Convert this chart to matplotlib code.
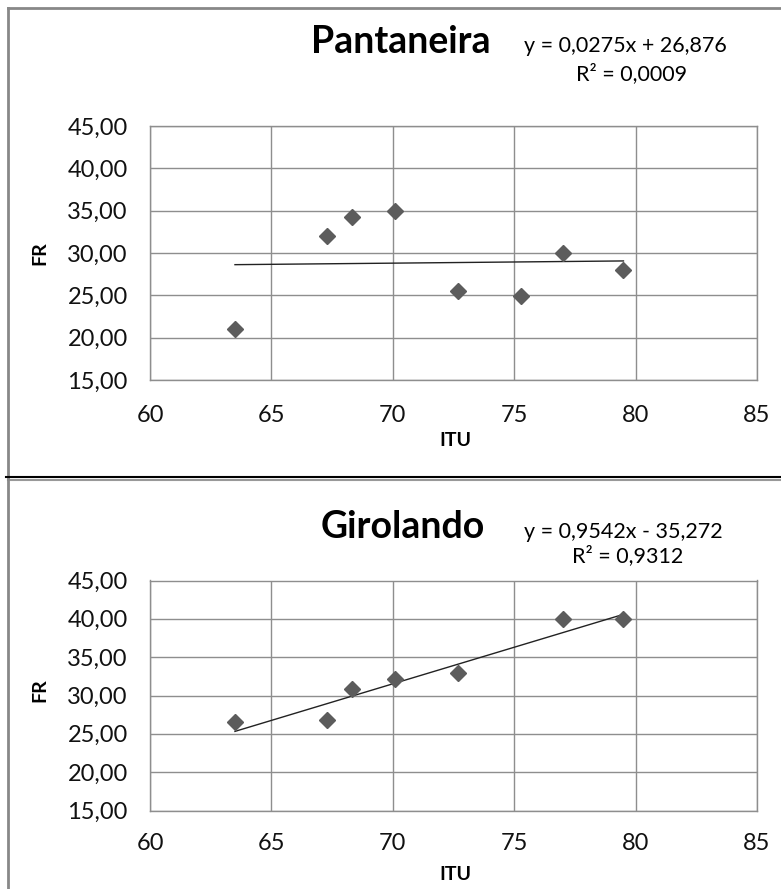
# =====================================================
# FR vs ITU scatter with linear trendline
# Two stacked panels: Pantaneira (top), Girolando (bottom)
# =====================================================

import matplotlib.pyplot as plt
from matplotlib.lines import Line2D

plt.rcParams['font.family'] = ['Lato', 'DejaVu Sans']

# === Data ===
itu_pant = [63.5, 67.3, 68.3, 70.1, 72.7, 75.3, 77.0, 79.5]
fr_pant = [21.0, 32.0, 34.3, 35.0, 25.5, 24.9, 30.0, 28.0]

itu_giro = [63.5, 67.3, 68.3, 70.1, 72.7, 77.0, 79.5]
fr_giro = [26.5, 26.8, 30.9, 32.1, 32.9, 40.0, 40.0]

# trendline coefficients (slope, intercept) as printed on the chart
trend_pant = (0.0275, 26.876)
trend_giro = (0.9542, -35.272)

eq_pant = ['y = 0,0275x + 26,876', 'R² = 0,0009']
eq_giro = ['y = 0,9542x - 35,272', 'R² = 0,9312']

x_ticks = [60, 65, 70, 75, 80, 85]
y_ticks = [15, 20, 25, 30, 35, 40, 45]

# === Figure setup (pixel layout) ===
W, H = 781, 889
fig = plt.figure(figsize=(W / 100, H / 100), dpi=100)
fig.patch.set_facecolor('white')

GRID = '#8e8e8e'
MARKER = '#5c5c5c'


def fx(px):
    return px / W


def fy(py):
    return 1 - py / H


def draw_panel(rect, itu, fr, trend, eq, title, title_xy, eq_xy, r2_xy, fr_xy, itu_xy, xpad):
    left, top, right, bottom = rect
    ax = fig.add_axes([fx(left), fy(bottom), fx(right - left), (bottom - top) / H])

    ax.plot(itu, fr, ls='none', marker='D', ms=8, color=MARKER, zorder=3)

    # linear trendline between min and max ITU
    x0, x1 = min(itu), max(itu)
    a, b = trend
    ax.plot([x0, x1], [a * x0 + b, a * x1 + b], color='#222222', lw=1.0, zorder=2)

    ax.set_xlim(60, 85)
    ax.set_ylim(15, 45)
    ax.set_xticks(x_ticks)
    ax.set_yticks(y_ticks)
    ax.set_xticklabels([str(t) for t in x_ticks])
    ax.set_yticklabels([f'{t:.2f}'.replace('.', ',') for t in y_ticks])
    ax.tick_params(length=0, labelsize=17, colors='#111111')
    ax.tick_params(axis='x', pad=xpad)
    ax.tick_params(axis='y', pad=16)
    ax.grid(True, color=GRID, lw=1.0)
    ax.set_axisbelow(True)
    for s in ax.spines.values():
        s.set_color(GRID)
        s.set_linewidth(1.0)

    fig.text(fx(title_xy[0]), fy(title_xy[1]), title, fontsize=27, fontweight='bold',
             ha='center', va='center')
    fig.text(fx(eq_xy[0]), fy(eq_xy[1]), eq[0], fontsize=15.5, ha='center', va='center')
    fig.text(fx(r2_xy[0]), fy(r2_xy[1]), eq[1], fontsize=15.5, ha='center', va='center')
    fig.text(fx(fr_xy[0]), fy(fr_xy[1]), 'FR', fontsize=14, fontweight='bold',
             rotation=90, ha='center', va='center')
    fig.text(fx(itu_xy[0]), fy(itu_xy[1]), 'ITU', fontsize=14, fontweight='bold',
             ha='center', va='center')
    return ax


draw_panel((150, 126, 757, 380), itu_pant, fr_pant, trend_pant, eq_pant, 'Pantaneira',
           (401, 42), (625, 46), (632, 74), (40, 253), (455, 440), xpad=18)
draw_panel((150, 580.5, 757, 810.5), itu_giro, fr_giro, trend_giro, eq_giro, 'Girolando',
           (403, 527), (623, 532), (628, 556), (40, 690), (455, 875), xpad=16)

# === Chart-area borders ===
fig.add_artist(Line2D([fx(8), fx(8)], [fy(8), fy(477)], color='#888888', lw=2))
fig.add_artist(Line2D([fx(8), 1], [fy(8), fy(8)], color='#888888', lw=2))
fig.add_artist(Line2D([fx(6), 1], [fy(477), fy(477)], color='black', lw=1.5))
fig.add_artist(Line2D([fx(8), 1], [fy(479.5), fy(479.5)], color='#999999', lw=1.5))
fig.add_artist(Line2D([fx(8), fx(8)], [fy(479), 0], color='#888888', lw=2))

plt.savefig('out.png', dpi=100, facecolor='white')
